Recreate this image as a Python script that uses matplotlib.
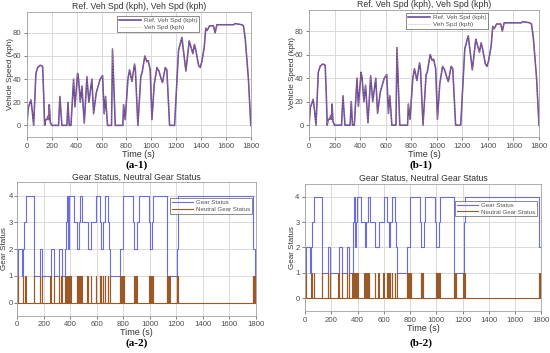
import matplotlib
matplotlib.use("Agg")
import matplotlib.pyplot as plt
import numpy as np

plt.rcParams["font.family"] = ["Liberation Sans", "DejaVu Sans"]

# ---- speed trace (time s, kph) ----
spd_t = [0, 10, 32, 40, 54, 62, 72, 86, 107, 126, 135, 142, 150, 160, 169,
         175, 180, 187, 200, 254, 265, 281, 321, 330, 340, 354, 375, 386, 407,
         415, 429, 442, 453, 461, 482, 498, 522, 536, 557, 570, 589, 608, 621,
         632, 648, 680, 688, 710, 771, 777, 790, 812, 825, 844, 865, 872, 892,
         916, 925, 948, 964, 975, 991, 1005, 1023, 1045, 1061, 1080, 1090, 1112,
         1125, 1147, 1187, 1219, 1246, 1278, 1305, 1313, 1334, 1347, 1358, 1380,
         1393, 1406, 1425, 1438, 1449, 1468, 1500, 1513, 1527, 1661, 1674, 1728,
         1741, 1755, 1781, 1800]
spd_v = [0, 15, 22, 15, 0, 20, 45, 50, 52, 51, 25, 0, 5, 5, 8,
         5, 18, 3, 0, 0, 25, 0, 0, 20, 0, 0, 40, 16, 45,
         40, 20, 34, 15, 2, 42, 20, 40, 10, 28, 33, 40, 43, 10,
         25, 0, 0, 66, 0, 0, 18, 5, 40, 48, 38, 53, 48, 0,
         43, 45, 60, 55, 56, 48, 5, 35, 50, 47, 40, 37, 50,
         48, 0, 0, 65, 76, 47, 73, 70, 62, 70, 65, 52,
         50, 55, 67, 84, 82, 86, 86, 80, 87, 87, 88, 87,
         86, 75, 40, 0]

# ---- gear status (step, time s -> gear) ----
gear_t = [0, 8, 38, 45, 55, 69, 127, 173, 191, 255, 280, 318, 336, 361, 367,
          374, 382, 388, 395, 428, 455, 467, 476, 491, 535, 560, 598, 624, 636,
          649, 662, 687, 694, 700, 776, 797, 802, 878, 884, 904, 916, 993, 1000,
          1018, 1026, 1133, 1209, 1213, 1217, 1782, 1795, 1800]
gear_v = [1, 2, 1, 2, 3, 4, 1, 2, 1, 2, 1, 2, 1, 2, 3,
          4, 2, 3, 4, 3, 2, 3, 4, 3, 2, 3, 4, 3, 2,
          3, 4, 3, 2, 1, 2, 3, 4, 3, 2, 3, 4, 3, 2,
          3, 4, 1, 2, 3, 4, 2, 1, 1]

# ---- neutral gear pulses (start / end, s) ----
neu_on = [5, 45, 63, 127, 170, 188, 252, 278, 316, 334, 358, 366, 373, 380,
          388, 396, 403, 452, 462, 470, 478, 486, 530, 558, 596, 622, 634, 647,
          660, 686, 698, 774, 782, 790, 798, 806, 882, 890, 898, 998, 1006, 1014,
          1022, 1131, 1140, 1148, 1205, 1212, 1780, 1790]
neu_off = [8, 48, 66, 130, 172, 190, 254, 280, 318, 336, 361, 369, 376, 383,
           391, 399, 406, 455, 465, 473, 481, 489, 532, 560, 598, 624, 636, 649,
           662, 688, 701, 777, 785, 793, 801, 809, 885, 893, 901, 1001, 1009, 1017,
           1025, 1134, 1143, 1151, 1208, 1215, 1783, 1793]

GRID = "#d9d9d9"
TICK = "#4d4d4d"
TXT = "#333333"


def neutral_series():
    t, v = [0], [0]
    for a, b in zip(neu_on, neu_off):
        t += [a, a, b, b]
        v += [0, 1, 1, 0]
    t.append(1800); v.append(0)
    return t, v


def style(ax):
    ax.set_xlim(0, 1800)
    ax.set_xticks(range(0, 1801, 200))
    ax.grid(True, color=GRID, linewidth=0.7)
    ax.set_axisbelow(True)
    ax.tick_params(labelsize=5.6, colors=TICK, length=2, width=0.5, pad=2)
    for s in ax.spines.values():
        s.set_color("#a0a0a0")
        s.set_linewidth(0.6)


def legend(ax, anchor, fs):
    lg = ax.legend(loc="upper right", bbox_to_anchor=anchor, fontsize=fs,
                   frameon=True, fancybox=False, handlelength=3.4,
                   borderpad=0.3, labelspacing=0.2, handletextpad=0.5,
                   borderaxespad=0)
    lg.get_frame().set_edgecolor("#333333")
    lg.get_frame().set_linewidth(0.5)
    for t in lg.get_texts():
        t.set_color("#555555")


fig = plt.figure(figsize=(5.5, 3.53), dpi=100)

# ---- top row: speed ----
for pos, tag, lx, anchor, ylx in [
        ([0.049, 0.612, 0.407, 0.354], "(a-1)", 0.249, (0.77, 0.968), -0.058),
        ([0.562, 0.612, 0.418, 0.360], "(b-1)", 0.765, (0.78, 0.976), -0.056)]:
    ax = fig.add_axes(pos)
    ax.plot(spd_t, spd_v, color="#5a3c9e", lw=1.1, label="Ref. Veh Spd (kph)")
    ax.plot(spd_t, spd_v, color="#c89070", lw=0.4, ls="--", alpha=0.8,
            label="Veh Spd (kph)")
    style(ax)
    ax.set_ylim(-10, 98)
    ax.set_yticks([0, 20, 40, 60, 80])
    ax.set_title("Ref. Veh Spd (kph), Veh Spd (kph)", fontsize=6.3,
                 color=TXT, pad=2)
    ax.set_xlabel("Time (s)", fontsize=6.5, color=TXT, labelpad=0)
    ax.set_ylabel("Vehicle Speed (kph)", fontsize=5.8, color=TXT)
    ax.yaxis.set_label_coords(ylx, 0.5)
    legend(ax, anchor, 4.6)
    fig.text(lx, 1 - 165 / 353, tag, ha="center", va="center",
             fontsize=8, fontweight="bold", family="Liberation Serif")

# ---- bottom row: gear ----
nt, nv = neutral_series()
for pos, tag, lx, anchor, ylx, ypad in [
        ([0.031, 0.105, 0.434, 0.379], "(a-2)", 0.249, (0.983, 0.88), -0.039, 1),
        ([0.555, 0.119, 0.429, 0.360], "(b-2)", 0.765, (0.983, 0.866), -0.04, 2)]:
    ax = fig.add_axes(pos)
    ax.step(gear_t, gear_v, where="post", color="#6b6be6", lw=0.8,
            label="Gear Status")
    ax.plot(nt, nv, color="#9a5a28", lw=0.8, label="Neutral Gear Status")
    style(ax)
    ax.tick_params(axis="y", pad=ypad)
    ax.set_ylim(-0.5, 4.5)
    ax.set_yticks([0, 1, 2, 3, 4])
    ax.set_title("Gear Status, Neutral Gear Status", fontsize=6.3,
                 color=TXT, pad=2)
    ax.set_xlabel("Time (s)", fontsize=6.5, color=TXT, labelpad=0)
    ax.set_ylabel("Gear Status", fontsize=5.8, color=TXT)
    ax.yaxis.set_label_coords(ylx, 0.5)
    legend(ax, anchor, 4.4)
    fig.text(lx, 1 - 343 / 353, tag, ha="center", va="center",
             fontsize=8, fontweight="bold", family="Liberation Serif")

fig.savefig("out.png", dpi=100)
